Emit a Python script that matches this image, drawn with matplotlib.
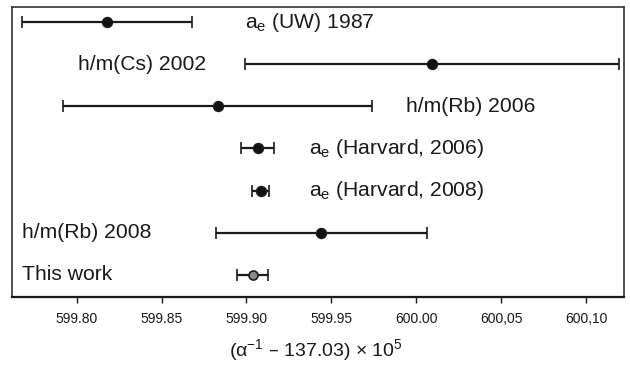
import numpy as np
import matplotlib
matplotlib.use("Agg")
import matplotlib.pyplot as plt

plt.rcParams['font.family'] = ['Liberation Sans', 'DejaVu Sans']
plt.rcParams['mathtext.default'] = 'regular'

# measurements, (alpha^-1 - 137.03) x 10^5
labels = [r"a$_e$ (UW) 1987", "h/m(Cs) 2002", "h/m(Rb) 2006",
          r"a$_e$ (Harvard, 2006)", r"a$_e$ (Harvard, 2008)",
          "h/m(Rb) 2008", "This work"]
values = [599.818, 600.009, 599.883, 599.9065, 599.9084, 599.944, 599.9037]
errors = [0.050, 0.110, 0.091, 0.0098, 0.0051, 0.062, 0.0091]

tick_vals = [599.80, 599.85, 599.90, 599.95, 600.00, 600.05, 600.10]
tick_labels = ["599.80", "599.85", "599.90", "599.95", "600.00", "600,05", "600,10"]

# where each label starts (layout)
label_x = [599.899, 599.801, 599.994, 599.937, 599.937, 599.768, 599.768]

fig = plt.figure(figsize=(6.3, 3.65), dpi=100)
ax = fig.add_axes([0.019, 0.186, 0.971, 0.795])

rows = np.arange(len(labels))
for i in rows:
    last = i == len(labels) - 1
    ax.errorbar(values[i], i, xerr=errors[i], fmt='o', color='#1a1a1a',
                ecolor='#1a1a1a', elinewidth=1.6, capsize=4.5, capthick=1.6,
                ms=7 if not last else 6.5,
                mfc='#8a8a8a' if last else '#111111', mec='#1a1a1a', mew=1.2)
    ax.text(label_x[i], i, labels[i], fontsize=15.2, va='center', ha='left',
            color='#1a1a1a')

ax.set_xlim(599.762, 600.122)
ax.set_ylim(6.53, -0.36)
ax.set_yticks([])
ax.set_xticks(tick_vals, tick_labels)
ax.tick_params(axis='x', direction='out', length=4, width=1, labelsize=10,
               pad=7, colors='#1a1a1a')
for s in ax.spines.values():
    s.set_color('#333333')
    s.set_linewidth(1.2)
ax.spines['bottom'].set_linewidth(1.6)
ax.spines['bottom'].set_color('#1a1a1a')

fig.text(0.502, 0.041, r"($\alpha^{-1}$ – 137.03) × 10$^5$", fontsize=14,
         ha='center', va='center', color='#1a1a1a')

fig.savefig("out.png", dpi=100)
